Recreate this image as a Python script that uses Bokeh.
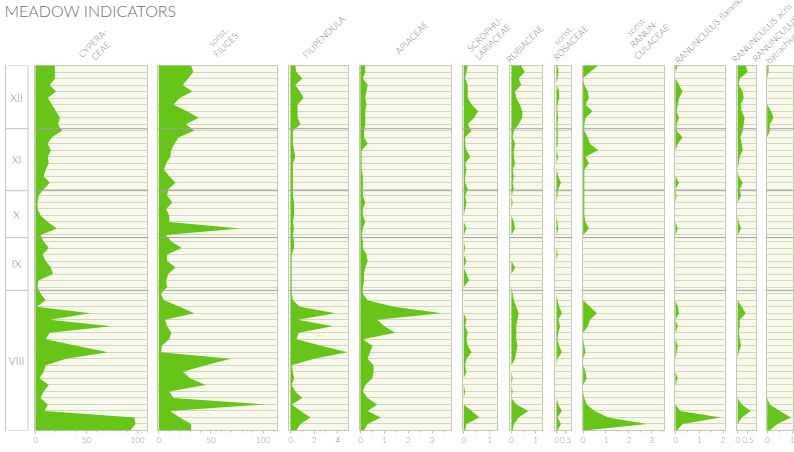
import math
from bokeh.plotting import figure
from bokeh.layouts import row, column
from bokeh.models import (Range1d, Span, FixedTicker, SingleIntervalTicker,
                          NumeralTickFormatter, ColumnDataSource)
from bokeh.embed import file_html
from bokeh.resources import INLINE
from bokeh.core.properties import value

# ---------------- data ----------------
TITLE = "MEADOW INDICATORS"
months = ["XII", "XI", "X", "IX", "VIII"]
month_bounds = [0, 9.7, 19.2, 26.4, 34.5, 56]
samples = list(range(57))

taxa = ["CYPERA-\nCEAE", "sonst.\nFILICES", "FILIPENDULA", "APIACEAE",
        "SCROPHU-\nLARIACEAE", "RUBIACEAE", "sonst.\nROSACEAE",
        "sonst.\nRANUN-\nCULACEAE", "RANUNCULUS flammula", "RANUNCULUS acris",
        "RANUNCULUS\nbatrachium"]

cyperaceae = [19, 19, 19, 14, 20, 12, 16, 20, 24, 22,
              26, 16, 12, 15, 12, 13, 10, 8, 14, 8,
              3, 2, 2, 5, 12, 21, 5, 8, 13, 7,
              10, 15, 17, 3, 2, 5, 10, 1, 54, 14,
              74, 14, 10, 40, 71, 30, 10, 8, 4, 13,
              8, 5, 12, 9, 97, 98, 93]
filices = [31, 33, 28, 23, 32, 20, 14, 27, 38, 26,
           34, 19, 15, 12, 11, 7, 5, 10, 16, 9,
           8, 13, 7, 10, 10, 78, 7, 12, 22, 8,
           8, 16, 9, 7, 8, 2, 5, 20, 34, 6,
           8, 12, 10, 3, 2, 69, 45, 23, 30, 45,
           10, 14, 102, 11, 20, 31, 31]
filipendula = [0.4, 0.5, 1.0, 0.4, 0.8, 1.1, 0.6, 0.6, 0.6, 0.85,
               0.2, 0.2, 0.2, 0.3, 0.4, 0.2, 0.2, 0.2, 0.2, 0.2,
               0.2, 0.3, 0.3, 0.3, 0.2, 0.3, 0.2, 0.3, 0.3, 0.1,
               0.1, 0.1, 0.1, 0.1, 0.1, 0.1, 0.2, 0.8, 3.8, 0.6,
               3.6, 0.7, 0.5, 2.6, 4.8, 2.0, 0.1, 0.2, 0.3, 0.1,
               0.4, 1.0, 0.1, 0.85, 1.7, 0.85, 0.5]
apiaceae = [0.2, 0.2, 0.1, 0.3, 0.25, 0.2, 0.25, 0.2, 0.2, 0.2,
            0.15, 0.15, 0.3, 0.05, 0.05, 0.05, 0.05, 0.1, 0.1, 0.1,
            0.1, 0.2, 0.1, 0.1, 0.2, 0.1, 0.05, 0.1, 0.1, 0.25,
            0.3, 0.2, 0.15, 0.15, 0.1, 0.1, 0.3, 1.4, 3.4, 0.7,
            1.0, 1.45, 0.1, 0.5, 0.4, 0.3, 0.55, 0.55, 0.5, 0.2,
            0.1, 0.3, 0.7, 0.3, 0.85, 0.3, 0.15]
scrophulariaceae = [0.15, 0.1, 0.05, 0.15, 0.15, 0.15, 0.3, 0.55, 0.4, 0.15,
                    0.3, 0.05, 0.05, 0.1, 0.25, 0.05, 0.1, 0.05, 0.05, 0.15,
                    0.05, 0.1, 0.05, 0, 0, 0.1, 0, 0, 0.05, 0,
                    0.1, 0, 0.1, 0.2, 0, 0, 0, 0, 0, 0.1,
                    0.05, 0.15, 0.1, 0.15, 0.3, 0.1, 0.05, 0.1, 0, 0,
                    0.05, 0, 0, 0.3, 0.6, 0.1, 0.05]
rubiaceae = [0.4, 0.55, 0.3, 0.4, 0.15, 0.2, 0.35, 0.45, 0.45, 0.3,
             0.1, 0.05, 0.15, 0.1, 0.1, 0.15, 0.05, 0.1, 0.05, 0.1,
             0, 0.05, 0, 0, 0.1, 0.15, 0, 0, 0, 0,
             0, 0.15, 0, 0, 0, 0.05, 0.1, 0.2, 0.3, 0.25,
             0.2, 0.2, 0.2, 0.25, 0.2, 0.15, 0, 0, 0.05, 0,
             0.05, 0, 0.2, 0.7, 0.3, 0.1, 0.05]
rosaceae = [0.05, 0.12, 0.05, 0, 0.15, 0.15, 0.05, 0.05, 0.1, 0.05,
            0.07, 0.07, 0.07, 0, 0.1, 0, 0, 0.1, 0.25, 0.1,
            0.05, 0, 0, 0, 0.05, 0.1, 0, 0, 0, 0.07,
            0, 0, 0, 0, 0, 0, 0.05, 0.15, 0.3, 0.1,
            0.2, 0.1, 0.05, 0.15, 0.3, 0.05, 0, 0, 0, 0,
            0, 0, 0.1, 0.3, 0.05, 0.25, 0.05]
ranunculaceae = [0.65, 0.3, 0, 0.05, 0.2, 0.25, 0.1, 0.4, 0.1, 0.05,
                 0.05, 0.2, 0.3, 0.65, 0.1, 0.25, 0.05, 0.05, 0.05, 0.05,
                 0.05, 0.05, 0.05, 0.05, 0.1, 0.25, 0, 0, 0, 0,
                 0, 0, 0, 0, 0, 0, 0, 0.3, 0.6, 0.3,
                 0.2, 0, 0, 0.05, 0.1, 0, 0, 0.1, 0.15, 0,
                 0, 0.05, 0.15, 0.5, 1.1, 2.8, 0.05]
ranunculus_flammula = [0.1, 0, 0, 0.15, 0.3, 0.15, 0.1, 0.05, 0.15, 0.05,
                       0.05, 0.3, 0.1, 0, 0, 0, 0, 0, 0.15, 0,
                       0.05, 0, 0, 0, 0, 0.1, 0, 0, 0, 0,
                       0, 0, 0, 0, 0, 0, 0, 0.1, 0.15, 0,
                       0.1, 0, 0, 0.1, 0.05, 0, 0, 0, 0.1, 0,
                       0, 0, 0, 0.2, 1.9, 0.3, 0.05]
ranunculus_acris = [0.4, 0.5, 0.1, 0.05, 0.25, 0.3, 0.15, 0.2, 0.35, 0.3,
                    0.25, 0.13, 0.2, 0.25, 0.1, 0.05, 0, 0.05, 0.25, 0.1,
                    0.17, 0, 0, 0, 0.05, 0.17, 0, 0, 0, 0,
                    0, 0, 0, 0, 0, 0, 0, 0.2, 0.4, 0.1,
                    0.1, 0.05, 0.1, 0.17, 0.05, 0, 0, 0, 0, 0,
                    0, 0, 0.2, 0.65, 0.2, 0, 0]
ranunculus_batrachium = [0.05, 0.05, 0, 0, 0, 0, 0, 0.15, 0.25, 0.1,
                         0.1, 0, 0, 0, 0, 0, 0, 0, 0, 0,
                         0, 0, 0, 0, 0, 0, 0, 0, 0, 0,
                         0, 0, 0, 0, 0, 0, 0, 0, 0, 0,
                         0, 0, 0, 0, 0, 0, 0, 0, 0, 0,
                         0, 0, 0.1, 0.5, 0.95, 0.4, 0.1]

series = [cyperaceae, filices, filipendula, apiaceae, scrophulariaceae,
          rubiaceae, rosaceae, ranunculaceae, ranunculus_flammula,
          ranunculus_acris, ranunculus_batrachium]

# ---------------- layout / style ----------------
W = 794
HEAD_H = 65
FRAME_H = 365
BOTTOM = 22
LAB_W = 30
LIGHT = "'Lato Light', Lato"
GREEN = "#67c419"
BG = "#f7f9ea"
GRIDC = "#d3d7c2"
OUTLINE = "#c4c8b6"
MONTHLINE = "#a3a3a3"

# per panel: x_start, x_end, major tick, minor count, gap before, frame width
panel_cfg = [
    (-0.98, 110.8, 50, 5, 4, 114),
    (-1.25, 114.7, 50, 5, 9, 121),
    (-0.17, 5.0, 2, 2, 10, 61),
    (-0.04, 3.85, 1, 2, 10, 93),
    (-0.05, 1.33, 1, 2, 10, 36),
    (-0.08, 1.33, 1, 2, 11, 34),
    (-0.11, 0.89, 0.5, 1, 11, 18),
    (-0.03, 3.61, 1, 2, 10, 83),
    (-0.04, 2.14, 1, 2, 9, 52),
    (-0.06, 0.99, 0.5, 1, 10, 21),
    (-0.03, 1.09, 1, 2, 9, 28),
]
# header label anchors (bottom-centre of each rotated block, page px)
label_x = [104, 229, 327, 415, 496, 528, 574, 655, 714, 765, 786]
label_y = [54, 48, 40, 41, 45, 47, 46, 45, 31, 36, 50]

# ---------------- header ----------------
head = figure(width=W, height=HEAD_H, x_range=Range1d(0, W), y_range=Range1d(HEAD_H, 0),
              toolbar_location=None, output_backend="svg", title=None,
              x_axis_location=None, y_axis_location=None,
              min_border_left=0, min_border_right=0, min_border_top=0, min_border_bottom=0,
              outline_line_color=None)
head.xgrid.visible = False
head.ygrid.visible = False
head.text(x=[4], y=[0], text=[TITLE], text_align="left", text_baseline="top",
          text_font=value(LIGHT), text_font_size="16px", text_color="#707070")
hsrc = ColumnDataSource(dict(x=label_x, y=label_y, t=taxa))
head.text(x="x", y="y", text="t", source=hsrc, angle=math.pi / 4,
          text_align="center", text_baseline="bottom", text_font=value(LIGHT),
          text_font_size="9px", text_color="#7e7e98", text_line_height=1.0)

# ---------------- month label column ----------------
lab = figure(frame_width=LAB_W, frame_height=FRAME_H, x_range=Range1d(0, LAB_W),
             y_range=Range1d(month_bounds[-1], month_bounds[0]),
             toolbar_location=None, output_backend="svg", title=None,
             x_axis_location=None, y_axis_location=None,
             min_border_left=0, min_border_right=0, min_border_top=0, min_border_bottom=BOTTOM,
             outline_line_color=None)
lab.xgrid.visible = False
lab.ygrid.visible = False
msrc = ColumnDataSource(dict(top=month_bounds[:-1], bottom=month_bounds[1:], m=months,
                             mid=[(a + b) / 2 for a, b in zip(month_bounds[:-1], month_bounds[1:])]))
lab.quad(left=5, right=27.5, top="top", bottom="bottom", source=msrc,
         fill_color="white", line_color="#c6c6c6", line_width=1)
lab.text(x=16, y="mid", text="m", source=msrc, text_align="center", text_baseline="middle",
         text_font=value(LIGHT), text_font_size="11px", text_color="#8a8a8a")

# ---------------- panels ----------------
figs = [lab]
for vals, (xs, xe, major, minor, gap, fw) in zip(series, panel_cfg):
    p = figure(frame_width=fw, frame_height=FRAME_H, x_range=Range1d(xs, xe),
               y_range=Range1d(month_bounds[-1], month_bounds[0]),
               toolbar_location=None, output_backend="svg", title=None,
               y_axis_location=None,
               min_border_left=gap, min_border_right=0, min_border_top=0, min_border_bottom=BOTTOM,
               background_fill_color=BG, outline_line_color=OUTLINE)
    p.xgrid.visible = False
    p.ygrid.ticker = FixedTicker(ticks=samples[1:-1])
    p.ygrid.grid_line_color = GRIDC
    p.ygrid.grid_line_width = 1
    src = ColumnDataSource(dict(y=samples, v=vals))
    p.harea(y="y", x1=0, x2="v", source=src, fill_color=GREEN)
    for b in month_bounds[1:-1]:
        p.add_layout(Span(location=b, dimension="width", line_color=MONTHLINE, line_width=1))
    ax = p.xaxis[0]
    ax.ticker = SingleIntervalTicker(interval=major, num_minor_ticks=minor)
    ax.formatter = NumeralTickFormatter(format="0.[0]")
    ax.axis_line_color = None
    ax.major_tick_in = 0
    ax.major_tick_out = 3
    ax.minor_tick_in = 0
    ax.minor_tick_out = 2
    ax.major_tick_line_color = "#b8b8b8"
    ax.minor_tick_line_color = "#c8c8c8" if minor > 1 else None
    ax.major_label_text_font = LIGHT
    ax.major_label_text_font_size = "8px"
    ax.major_label_text_color = "#8c8c8c"
    ax.major_label_standoff = 3
    figs.append(p)

layout = column(head, row(*figs))
open("out.html", "w").write(file_html(layout, INLINE))
